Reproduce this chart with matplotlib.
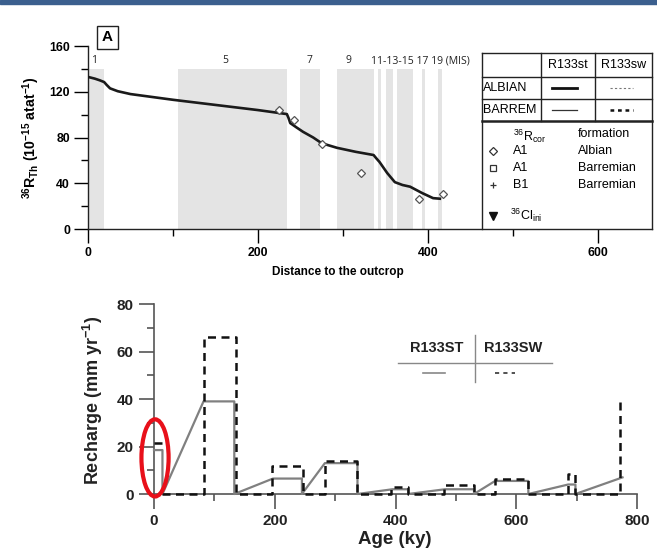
import matplotlib
matplotlib.use('Agg')
import matplotlib.pyplot as plt
from matplotlib.patches import Ellipse, Rectangle
from matplotlib.ticker import MultipleLocator

plt.rcParams['font.family'] = ['Liberation Sans', 'DejaVu Sans']
plt.rcParams['mathtext.fontset'] = 'custom'
plt.rcParams['mathtext.rm'] = 'Liberation Sans'
plt.rcParams['mathtext.bf'] = 'Liberation Sans:bold'
plt.rcParams['mathtext.it'] = 'Liberation Sans:italic'

# --- panel A: 36R_Th vs distance ---
mis_bands = [(0, 19), (106, 234), (249, 273), (293, 336), (341, 345),
             (351, 359), (364, 382), (393, 396), (412, 417)]
mis_labels = ['1', '5', '7', '9', '11-13-15 17 19 (MIS)']
mis_label_x = [7, 162, 261, 306, 333]

curve_x = [0, 8, 14, 19, 22, 26, 35, 50, 75, 100, 150, 200, 234, 236, 238,
           245, 253, 265, 275, 293, 315, 336, 339, 343, 352, 361, 370, 379,
           393, 406, 414]
curve_y = [133, 131.5, 130, 128.5, 126, 123, 120.5, 118, 115.5, 113, 108.5,
           104, 100.5, 97, 92.6, 89, 85, 80, 75, 71, 67.5, 64.7, 62, 58.6,
           49, 41, 38.5, 37, 31.5, 27, 26.5]

a1_x = [225, 242, 275, 321, 390, 418]
a1_y = [104, 95, 74, 49, 26, 31]

# --- panel B: recharge per period ---
period_start = [0, 82, 197, 283, 395, 482, 565, 686, 776]
period_end = [14, 133, 245, 337, 421, 530, 620, 698, 776]
st_recharge = [18.5, 39, 6.5, 13, 2, 2, 5.5, 4, 7]

sw_start = [0, 82, 195, 283, 392, 480, 565, 686, 772]
sw_end = [14, 135, 247, 337, 421, 530, 620, 698, 777]
sw_recharge = [21.5, 66, 12, 14, 3, 4, 6.5, 8.5, 39]

fig = plt.figure(figsize=(6.57, 5.56), dpi=100)
fig.patches.append(Rectangle((0, 0.9935), 1, 0.0065, transform=fig.transFigure,
                             color='#3b5f8e', zorder=10))

ax1 = fig.add_axes([0.1339, 0.5881, 0.8584, 0.3291])
ax1.set_xlim(0, 663.5)
ax1.set_ylim(0, 160)
for a, b in mis_bands:
    ax1.axvspan(a, b, ymax=140 / 160, color='#e4e4e4', lw=0, zorder=0)
ax1.plot(curve_x, curve_y, color='#1a1a1a', lw=1.9, zorder=3)
ax1.plot(a1_x, a1_y, 'D', mfc='white', mec='#555555', ms=4.5, mew=0.9, zorder=4)
for lab, x in zip(mis_labels, mis_label_x):
    ax1.text(x, 147, lab, fontsize=7.5, family='Open Sans', color='#222222',
             ha='left' if len(lab) > 2 else 'center', va='center')

for s in ['top', 'right']:
    ax1.spines[s].set_visible(False)
for s in ['left', 'bottom']:
    ax1.spines[s].set_color('#222222')
    ax1.spines[s].set_linewidth(1.0)
ax1.set_xticks([0, 200, 400, 600])
ax1.xaxis.set_minor_locator(MultipleLocator(100))
ax1.set_yticks([0, 40, 80, 120, 160])
ax1.yaxis.set_minor_locator(MultipleLocator(20))
ax1.tick_params(which='major', length=10, width=1, pad=3, labelsize=8.8)
ax1.tick_params(which='minor', length=5, width=1)
ax1.xaxis.set_minor_formatter(plt.NullFormatter())
for lab in ax1.get_xticklabels() + ax1.get_yticklabels():
    lab.set_fontweight('bold')

# table legend on the right
c0, c1, c2, c3 = 463.5, 533, 596.5, 663.5
r0, r1, r2, r3 = 153.8, 133, 113.6, 94.4
kw = dict(color='#222222', lw=1.0, clip_on=False, zorder=5)
for y in [r0, r1, r2]:
    ax1.plot([c0, c3], [y, y], **kw)
ax1.plot([c0, c3], [r3, r3], color='#222222', lw=1.8, clip_on=False, zorder=5)
ax1.plot([c0, c0], [0, r0], **kw)
ax1.plot([c3, c3], [0, r0], **kw)
for x in [c1, c2]:
    ax1.plot([x, x], [r3, r0], **kw)
ax1.text((c1 + c2) / 2, (r0 + r1) / 2, 'R133st', fontsize=9, ha='center', va='center')
ax1.text((c2 + c3) / 2, (r0 + r1) / 2, 'R133sw', fontsize=9, ha='center', va='center')
ax1.text(c0 + 1, (r1 + r2) / 2, 'ALBIAN', fontsize=9, ha='left', va='center')
ax1.text(c0 + 1, (r2 + r3) / 2, 'BARREM', fontsize=9, ha='left', va='center')
ax1.plot([546, 575], [123, 123], color='#111111', lw=2.0, clip_on=False)
ax1.plot([614, 641], [123, 123], color='#777777', lw=0.8, ls=(0, (2, 2)), clip_on=False)
ax1.plot([546, 575], [104, 104], color='#333333', lw=0.9, clip_on=False)
ax1.plot([614, 641], [104, 104], color='#111111', lw=1.8, ls=(0, (1.5, 1.5)), clip_on=False)

ax1.text(500, 81, r'$^{36}$R$_{\mathrm{cor}}$', fontsize=9, ha='left', va='center')
ax1.text(576, 83, 'formation', fontsize=9, ha='left', va='center')
leg_rows = [('D', 'A1', 'Albian', 68), ('s', 'A1', 'Barremian', 53.3),
            ('+', 'B1', 'Barremian', 38.5)]
for mk, core, form, y in leg_rows:
    ax1.plot([476.5], [y], mk, mfc='white', mec='#333333', ms=4.5, mew=0.9,
             clip_on=False, zorder=6)
    ax1.text(500, y, core, fontsize=9, ha='left', va='center')
    ax1.text(576, y, form, fontsize=9, ha='left', va='center')
ax1.plot([476.5], [11.4], 'v', color='#111111', ms=6, clip_on=False, zorder=6)
ax1.text(497, 12, r'$^{36}$Cl$_{\mathrm{ini}}$', fontsize=9, ha='left', va='center')

fig.text(0.1636, 0.9326, 'A', fontsize=11, fontweight='bold', ha='center', va='center',
         bbox=dict(boxstyle='square,pad=0.3', fc='white', ec='#222222', lw=1.0))
fig.text(0.048, 0.7527, r'$^{\mathbf{36}}$R$_{\mathbf{Th}}$ (10$^{\mathbf{-15}}$ atat$^{\mathbf{-1}}$)',
         rotation=90, fontsize=10.2, fontweight='bold', ha='center', va='center')
fig.text(0.5145, 0.5108, 'Distance to the outcrop', fontsize=8.5, fontweight='bold',
         ha='center', va='center')

# --- panel B ---
ax2 = fig.add_axes([0.2344, 0.1115, 0.7352, 0.3417])
ax2.set_xlim(0, 800)
ax2.set_ylim(0, 80)

st_x, st_y = [], []
for i, (s, e, v) in enumerate(zip(period_start, period_end, st_recharge)):
    st_x += [s, e]
    st_y += [v, v]
    if i < len(period_start) - 1:
        st_x.append(e)
        st_y.append(0)
ax2.plot(st_x, st_y, color='#808080', lw=1.6, zorder=3, clip_on=False)

# first period: only the top of the box, then boxes on the baseline
sw_x = [sw_start[0], sw_end[0], float('nan'), sw_end[0]]
sw_y = [sw_recharge[0], sw_recharge[0], float('nan'), 0]
for i in range(1, len(sw_start)):
    s, e, v = sw_start[i], sw_end[i], sw_recharge[i]
    sw_x += [s, s, e]
    sw_y += [0, v, v]
    if i < len(sw_start) - 1:
        sw_x.append(e)
        sw_y.append(0)
ax2.plot(sw_x, sw_y, color='#111111', lw=1.8, ls=(0, (3.2, 2.2)), zorder=4, clip_on=False)

for s in ['top', 'right']:
    ax2.spines[s].set_visible(False)
for s in ['left', 'bottom']:
    ax2.spines[s].set_color('#555555')
    ax2.spines[s].set_linewidth(1.2)
ax2.set_xticks([0, 200, 400, 600, 800])
ax2.xaxis.set_minor_locator(MultipleLocator(100))
ax2.set_yticks([0, 20, 40, 60, 80])
ax2.yaxis.set_minor_locator(MultipleLocator(10))
ax2.tick_params(which='major', length=10.5, width=1.2, color='#555555', pad=4, labelsize=11)
ax2.tick_params(which='minor', length=5, width=1.2, color='#555555')
for lab in ax2.get_xticklabels() + ax2.get_yticklabels():
    lab.set_fontweight('bold')
    lab.set_color('#222222')

ax2.text(469, 61.5, 'R133ST', fontsize=10.5, fontweight='bold', ha='center', va='center',
         color='#222222')
ax2.text(595, 61.5, 'R133SW', fontsize=10.5, fontweight='bold', ha='center', va='center',
         color='#222222')
ax2.plot([404, 659], [55.2, 55.2], color='#888888', lw=1.0)
ax2.plot([532, 532], [47.2, 67], color='#888888', lw=1.0)
ax2.plot([446, 482], [51, 51], color='#888888', lw=1.2)
ax2.plot([565, 598], [51, 51], color='#333333', lw=1.2, ls=(0, (2.5, 2.5)))

ax2.add_patch(Ellipse((1.7, 15.2), 45, 32.5, fill=False, ec='#e8101a', lw=3.0,
                      clip_on=False, zorder=6))

fig.text(0.1416, 0.2806, r'Recharge (mm yr$^{\mathbf{-1}}$)', rotation=90, fontsize=13,
         fontweight='bold', ha='center', va='center', color='#222222')
fig.text(0.601, 0.0288, 'Age (ky)', fontsize=13.5, fontweight='bold', ha='center',
         va='center', color='#222222')

fig.savefig('out.png', dpi=100)
